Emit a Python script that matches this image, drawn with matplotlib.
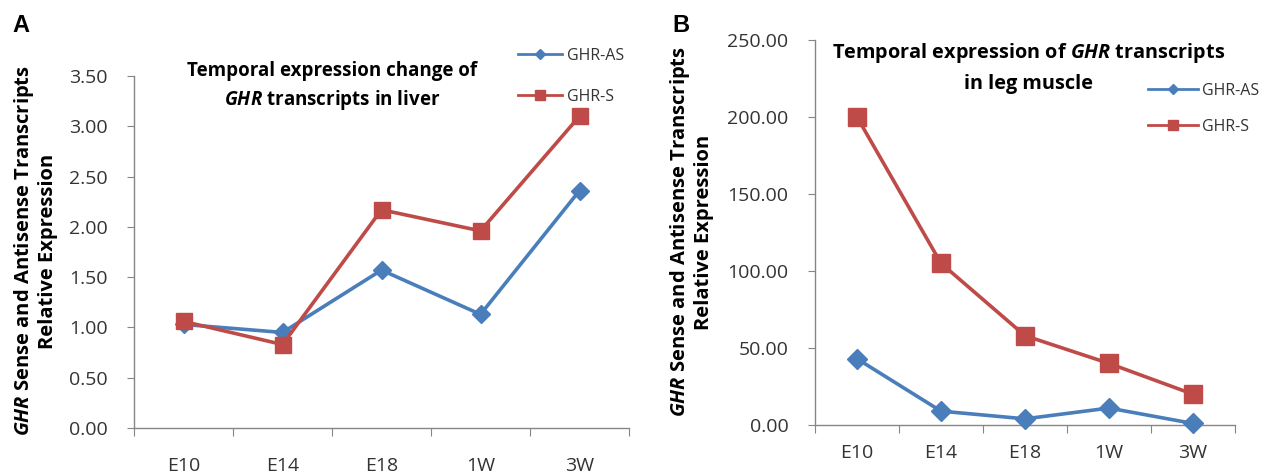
import numpy as np
import matplotlib.pyplot as plt
from matplotlib.lines import Line2D

plt.rcParams['font.family'] = ['Open Sans', 'DejaVu Sans']
plt.rcParams['mathtext.fontset'] = 'custom'
plt.rcParams['mathtext.it'] = 'Open Sans:italic:bold'
plt.rcParams['mathtext.bf'] = 'Open Sans:bold'

stages = ['E10', 'E14', 'E18', '1W', '3W']

# panel A: liver
liver_as = [1.03, 0.95, 1.57, 1.13, 2.36]
liver_s = [1.06, 0.83, 2.17, 1.96, 3.10]

# panel B: leg muscle
muscle_as = [43.0, 9.0, 4.0, 11.0, 1.0]
muscle_s = [200.0, 105.0, 58.0, 40.0, 20.0]

blue = '#4a7ebb'
red = '#be4b48'
grey = '#868686'
txt = '#333333'

W, H = 1271, 476
fig = plt.figure(figsize=(W / 100, H / 100), dpi=100)


def px(x0, y0, x1, y1):
    # pixel box (left, top, right, bottom) -> figure fraction rect
    return [x0 / W, 1 - y1 / H, (x1 - x0) / W, (y1 - y0) / H]


axA = fig.add_axes(px(134, 76, 629, 428))
axB = fig.add_axes(px(815, 40, 1235, 425))

ylab = r'$\it{GHR}$ Sense and Antisense Transcripts' + '\nRelative Expression'


def style(ax, ymax, step, pad):
    x = np.arange(len(stages))
    yt = np.arange(0, ymax + step / 2, step)
    ax.set_xlim(-0.5, len(stages) - 0.5)
    ax.set_ylim(0, ymax)
    ax.set_yticks(yt)
    ax.set_yticklabels(['{:.2f}'.format(v) for v in yt])
    ax.set_xticks(np.arange(-0.5, len(stages), 1.0))
    ax.set_xticklabels([])
    ax.set_xticks(x, minor=True)
    ax.set_xticklabels(stages, minor=True)
    ax.tick_params(axis='x', which='major', direction='out', length=6, color=grey)
    ax.tick_params(axis='x', which='minor', length=0, pad=pad, labelsize=14, labelcolor=txt)
    ax.tick_params(axis='y', direction='out', length=5, color=grey, pad=14,
                   labelsize=14, labelcolor=txt)
    for s in ['top', 'right']:
        ax.spines[s].set_visible(False)
    for s in ['left', 'bottom']:
        ax.spines[s].set_color(grey)
        ax.spines[s].set_linewidth(1.0)


def draw(ax, yas, ys, dms, sms):
    x = np.arange(len(stages))
    ax.plot(x, yas, color=blue, lw=2.6, marker='D', ms=dms, clip_on=False, zorder=3)
    ax.plot(x, ys, color=red, lw=2.6, marker='s', ms=sms, clip_on=False, zorder=3)


def legend(x0, y0, hl, sp):
    h_as = Line2D([0], [0], color=blue, lw=2.0, marker='D', ms=5)
    h_s = Line2D([0], [0], color=red, lw=2.0, marker='s', ms=7)
    fig.legend([h_as, h_s], ['GHR-AS', 'GHR-S'], loc='upper left',
               bbox_to_anchor=(x0 / W, 1 - y0 / H), bbox_transform=fig.transFigure,
               frameon=False, fontsize=11.5, handlelength=hl, handletextpad=0.3,
               labelspacing=sp, borderaxespad=0, borderpad=0, labelcolor=txt)


def title(x, lines, size):
    for yy, s in lines:
        fig.text(x / W, 1 - yy / H, s, ha='center', va='center', fontsize=size,
                 fontweight='bold')


draw(axA, liver_as, liver_s, 9, 11)
style(axA, 3.5, 0.5, 21)
legend(518, 48, 2.75, 1.55)
title(332, [(71, 'Temporal expression change of'),
            (100, r'$\it{GHR}$' + ' transcripts in liver')], 13.5)
fig.text(35 / W, 1 - 251 / H, ylab, rotation=90, ha='center', va='center',
         fontsize=14.5, fontweight='bold', linespacing=1.1)

draw(axB, muscle_as, muscle_s, 10, 12.5)
style(axB, 250, 50, 14)
legend(1148, 83, 3.1, 1.25)
title(1029, [(53, r'Temporal expression of $\it{GHR}$ transcripts'),
             (84, 'in leg muscle')], 14.3)
fig.text(691 / W, 1 - 232 / H, ylab, rotation=90, ha='center', va='center',
         fontsize=14.5, fontweight='bold', linespacing=1.1)

fig.text(12 / W, 1 - 32 / H, 'A', fontsize=17, fontweight='bold', family='Liberation Sans')
fig.text(672 / W, 1 - 32 / H, 'B', fontsize=17, fontweight='bold', family='Liberation Sans')

fig.savefig('out.png', dpi=100)
